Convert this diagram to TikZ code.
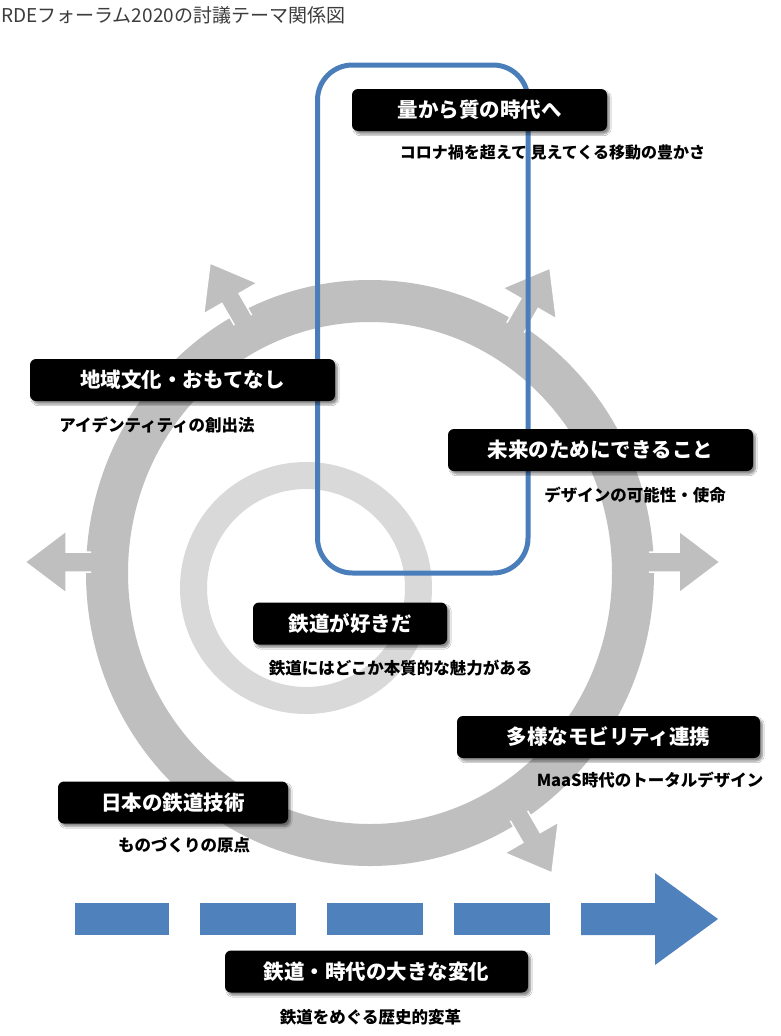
\documentclass[tikz,border=0pt]{standalone}
\usepackage{fontspec}
\newfontfamily\jp{Noto Sans CJK JP}
\usetikzlibrary{shadows.blur}
\definecolor{ringgray}{RGB}{191,191,191}
\definecolor{ringlight}{RGB}{217,217,217}
\definecolor{rectblue}{RGB}{74,126,187}
\definecolor{dashblue}{RGB}{79,129,189}
\definecolor{titlegray}{RGB}{60,60,60}
\newcommand\ringarrowat[4]{%
  \begin{scope}[shift={(#1,#2)}, rotate=#3]
    \fill[ringgray] (0,0) -- (-41,31) -- (-41,10) -- (-#4,10) -- (-#4,-10) -- (-41,-10) -- (-41,-31) -- cycle;
    \draw[white, line width=1.5pt, line join=miter] (-#4,10) -- (-41,10) -- (-41,31) -- (0,0) -- (-41,-31) -- (-41,-10) -- (-#4,-10);
  \end{scope}}
\begin{document}
\begin{tikzpicture}[x=1pt,y=-1pt,
  lbl/.style={fill=black, text=white, font=\jp\bfseries\fontsize{20.5pt}{24pt}\selectfont,
    rounded corners=6pt, minimum height=42pt, inner sep=0pt,
    blur shadow={shadow xshift=2.5pt, shadow yshift=-3pt, shadow blur steps=6, shadow opacity=45}},
  sub/.style={text=black, font=\jp\bfseries\fontsize{16.5pt}{20pt}\selectfont, inner sep=0pt},
  dashbox/.style={fill=dashblue, draw=none}]
\useasboundingbox (0,0) rectangle (780,1036);
\fill[white] (0,0) rectangle (780,1036);

% title
\node[anchor=base west, inner sep=0pt, text=titlegray, font=\jp\fontsize{19pt}{22pt}\selectfont] (title) at (1,23) {RDEフォーラム2020の討議テーマ関係図};

% big ring and arrows
\draw[ringgray, line width=42pt] (370,573) ellipse [x radius=263, y radius=272];
\ringarrowat{25}{562}{180}{66}
\ringarrowat{720}{562}{0}{71}
\ringarrowat{210}{263}{120}{66}
\ringarrowat{550}{268}{60}{69}
\ringarrowat{552}{873}{-60}{66}

% inner ring
\draw[ringlight, line width=27pt] (306,588) circle [radius=112.5];

% blue rounded frame
\draw[rectblue, line width=5pt, rounded corners=35pt] (317.5,65) rectangle (528,573);

% dashed blue arrow
\fill[dashbox] (75,903) rectangle (169,935);
\fill[dashbox] (200,903) rectangle (296,935);
\fill[dashbox] (327,903) rectangle (423,935);
\fill[dashbox] (454,903) rectangle (550,935);
\fill[dashbox] (581,903) -- (655,903) -- (655,873) -- (718,919) -- (655,965) -- (655,935) -- (581,935) -- cycle;

% labels
\node[lbl, minimum width=255pt] (q) at (479.5,110) {量から質の時代へ};
\node[lbl, minimum width=305pt] (chiiki) at (182.5,380) {地域文化・おもてなし};
\node[lbl, minimum width=305pt] (mirai) at (600.5,450) {未来のためにできること};
\node[lbl, minimum width=194pt] (suki) at (350,623.5) {鉄道が好きだ};
\node[lbl, minimum width=303pt] (tayo) at (608.5,737) {多様なモビリティ連携};
\node[lbl, minimum width=230pt] (nihon) at (173,802.5) {日本の鉄道技術};
\node[lbl, minimum width=303pt] (henka) at (376.5,971.5) {鉄道・時代の大きな変化};

% subtitles
\node[sub, font=\jp\bfseries\fontsize{16pt}{19pt}\selectfont] (qsub) at (552.5,152) {コロナ禍を超えて 見えてくる移動の豊かさ};
\node[sub] (chiikisub) at (157,425) {アイデンティティの創出法};
\node[sub] (miraisub) at (635,495) {デザインの可能性・使命};
\node[sub] (sukisub) at (400.5,668) {鉄道にはどこか本質的な魅力がある};
\node[sub] (tayosub) at (650,780) {MaaS時代のトータルデザイン};
\node[sub] (nihonsub) at (184,845) {ものづくりの原点};
\node[sub] (henkasub) at (370.5,1017) {鉄道をめぐる歴史的変革};
\end{tikzpicture}
\end{document}
